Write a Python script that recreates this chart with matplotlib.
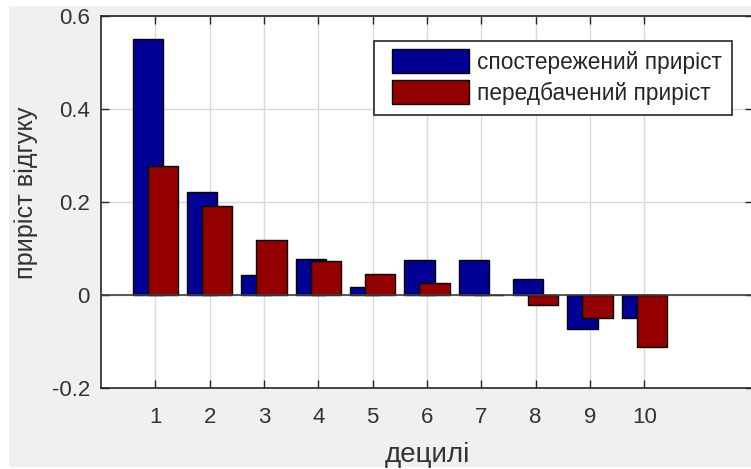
import matplotlib
matplotlib.use("Agg")
import matplotlib.pyplot as plt
import numpy as np
from matplotlib.patches import Rectangle
from matplotlib.container import BarContainer
from matplotlib.legend_handler import HandlerPatch, update_from_first_child

plt.rcParams['font.family'] = ['Liberation Sans', 'DejaVu Sans']

deciles = [1, 2, 3, 4, 5, 6, 7, 8, 9, 10]
observed = [0.551, 0.221, 0.042, 0.078, 0.017, 0.075, 0.075, 0.034, -0.074, -0.049]
predicted = [0.278, 0.192, 0.119, 0.074, 0.046, 0.026, 0.0, -0.021, -0.049, -0.111]
series_labels = ['спостережений приріст', 'передбачений приріст']
yticks = [-0.2, 0, 0.2, 0.4, 0.6]

W, H = 751, 469
fig = plt.figure(figsize=(W / 100, H / 100), dpi=100)
fig.patch.set_facecolor('white')
# grey window area inside a thin white border
fig.patches.append(Rectangle((9 / W, 2 / H), 1 - 9 / W, 1 - 8 / H, transform=fig.transFigure,
                             facecolor='#f0f0f0', edgecolor='none', zorder=-10))

ax_left, ax_right, ax_top, ax_bottom = 101, 753, 16, 388
ax_w, ax_h = ax_right - ax_left, ax_bottom - ax_top
ax = fig.add_axes([ax_left / W, 1 - ax_bottom / H, ax_w / W, ax_h / H])
ax.set_zorder(1)
ax.set_facecolor('white')

x = np.array(deciles, dtype=float)
width = 0.56
ax.bar(x - 0.14, observed, width, color='#000094', edgecolor='black', linewidth=1.0,
       label=series_labels[0], zorder=3)
ax.bar(x + 0.14, predicted, width, color='#940000', edgecolor='black', linewidth=1.0,
       label=series_labels[1], zorder=3)
ax.axhline(0, color='#404040', linewidth=1.2, zorder=4)

ax.set_xlim(0, 12)
ax.set_ylim(-0.2, 0.6)
ax.set_xticks(deciles)
ax.set_yticks(yticks)
ax.set_yticklabels(['-0.2', '0', '0.2', '0.4', '0.6'])
ax.grid(True, color='#d9d9d9', linewidth=1.0, zorder=0)
ax.set_axisbelow(True)
ax.tick_params(direction='in', top=True, right=True, length=6, width=1.0, color='#262626',
               labelsize=16, labelcolor='#333333')
ax.tick_params(axis='x', pad=14)
ax.tick_params(axis='y', pad=8)
for s in ax.spines.values():
    s.set_color('#262626')
    s.set_linewidth(1.2)

ax.set_xlabel('децилі', fontsize=20, color='#333333', labelpad=10)
ax.set_ylabel('приріст відгуку', fontsize=18.2, color='#333333')
ax.yaxis.set_label_coords((38 - ax_left) / ax_w, 0.525)

PT = 72 / 100  # points per pixel


def inset_patch(legend, orig_handle, xdescent, ydescent, width, height, fontsize):
    off = 8 * PT
    h = 24 * PT
    y0 = -ydescent + height / 2 - h / 2
    return Rectangle((-xdescent + off, y0), width - off, h)


bar_handler = HandlerPatch(patch_func=inset_patch, update_func=update_from_first_child)
leg = ax.legend(loc='upper left', bbox_to_anchor=((374 - ax_left) / ax_w,
                                                   (ax_bottom - 41) / ax_h),
                fontsize=16.3, frameon=True, fancybox=False, framealpha=1, edgecolor='#262626',
                handlelength=3.75, handleheight=0.9, handletextpad=0.35, labelspacing=0.35,
                borderpad=0.45, borderaxespad=0,
                handler_map={BarContainer: bar_handler})
leg.get_frame().set_linewidth(1.2)
for t in leg.get_texts():
    t.set_color('#262626')

fig.savefig('out.png', dpi=100, facecolor=fig.get_facecolor())
